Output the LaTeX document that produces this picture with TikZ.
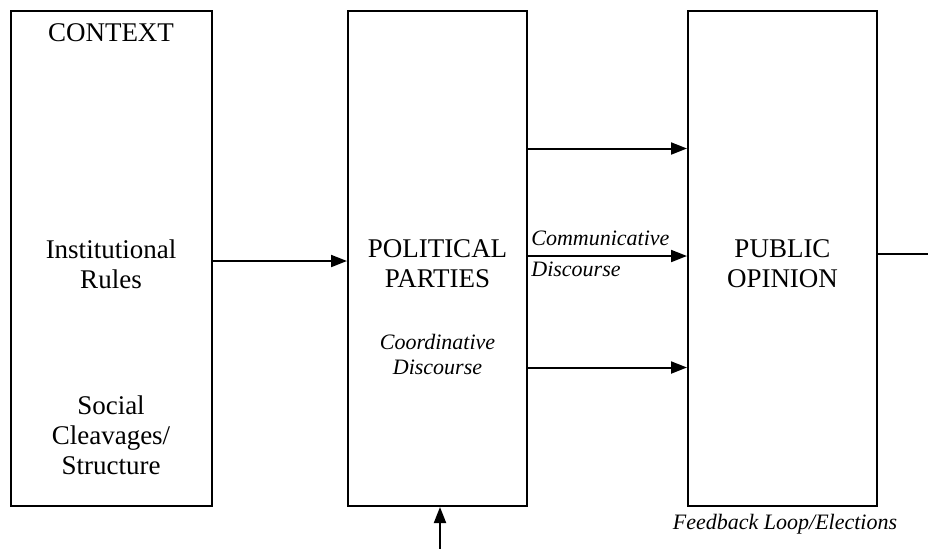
\documentclass[tikz,border=0pt]{standalone}
\usepackage{fontspec}
\setmainfont{Liberation Serif}
\usetikzlibrary{arrows.meta,positioning}
\tikzstyle{block}=[draw, line width=1pt, minimum height=247.5pt, inner sep=0pt]
\tikzstyle{lbl}=[align=center, inner sep=0pt, font=\fontsize{13.5}{15}\selectfont]
\tikzstyle{ital}=[inner sep=0pt, font=\fontsize{11}{12.5}\selectfont\itshape]
\tikzstyle{line}=[line width=1pt]

\begin{document}
\begin{tikzpicture}[x=0.5pt,y=-0.5pt,>={Triangle[length=8pt,width=6pt]}]
  \useasboundingbox (0,0) rectangle (928,548);

  \node [block, minimum width=100.5pt] (ctx) at (111,258.5) {};
  \node [block, minimum width=89.5pt] (pp) at (437.5,258.5) {};
  \node [block, minimum width=94.5pt] (po) at (782.5,258.5) {};

  \node [lbl] (ctxt) at (111,33) {CONTEXT};
  \node [lbl] (rules) at (111,264) {Institutional\\Rules};
  \node [lbl] (soc) at (111,435) {Social\\Cleavages/\\Structure};
  \node [lbl] (ppt) at (437.5,264) {POLITICAL\\PARTIES};
  \node [ital, align=center] (coord) at (437.5,354) {Coordinative\\Discourse};
  \node [lbl] (pot) at (782.5,264) {PUBLIC\\OPINION};
  \node [ital, align=left, anchor=west] (comm) at (531,254) {Communicative\\[3pt]Discourse};
  \node [ital] (fb) at (785,524) {Feedback Loop/Elections};

  \coordinate (out) at (928,254);
  \coordinate (in) at (440,560);

  \draw [line,->] ([yshift=-1.25pt]ctx.east) -- ([yshift=-1.25pt]pp.west);
  \draw [line,->] ([yshift=55pt]pp.east) -- ([yshift=55pt]po.west);
  \draw [line,->] ([yshift=1.25pt]pp.east) -- ([yshift=1.25pt]po.west);
  \draw [line,->] ([yshift=-54.5pt]pp.east) -- ([yshift=-54.5pt]po.west);
  \draw [line] (po.east |- out) -- (out);
  \draw [line,->] (in) -- ([xshift=1.25pt]pp.south);
\end{tikzpicture}
\end{document}
